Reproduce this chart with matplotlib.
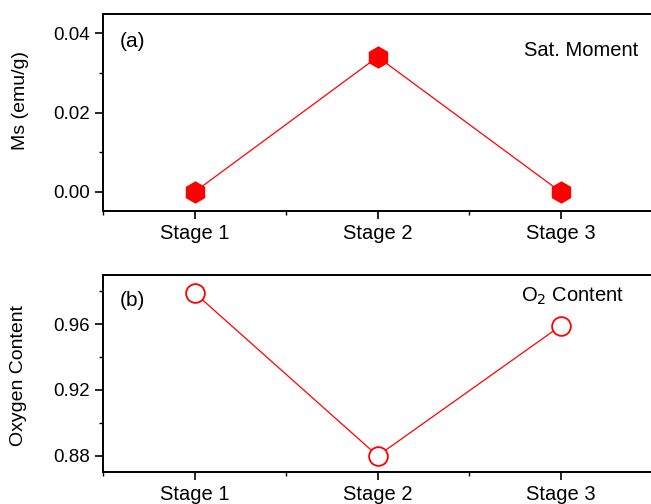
import matplotlib
matplotlib.use("Agg")
import matplotlib.pyplot as plt
from matplotlib.ticker import MultipleLocator

plt.rcParams['font.family'] = ['Liberation Sans', 'DejaVu Sans']

# data
stages = [1, 2, 3]
stage_labels = ["Stage 1", "Stage 2", "Stage 3"]
ms = [0.0, 0.034, 0.0]
oxygen = [0.979, 0.880, 0.959]

fig = plt.figure(figsize=(6.51, 5.04), dpi=100)
ax1 = fig.add_axes([103/651, 1 - 211/504, 1 - 103/651 + 0.002, (211 - 14)/504])
ax2 = fig.add_axes([103/651, 1 - 472/504, 1 - 103/651 + 0.002, (472 - 275)/504])

ax1.plot(stages, ms, color='red', lw=0.9, marker='h', ms=15,
         mfc='red', mec='red')
ax2.plot(stages, oxygen, color='red', lw=0.9, marker='o', ms=13.5,
         mfc='white', mec='red', mew=1.3)

ax1.set_ylim(-0.0048, 0.0448)
ax1.yaxis.set_major_locator(MultipleLocator(0.02))
ax1.yaxis.set_minor_locator(MultipleLocator(0.01))
ax1.yaxis.set_major_formatter(plt.FormatStrFormatter('%.2f'))
ax1.set_ylabel("Ms (emu/g)", fontsize=14)
ax1.text(0.031, 0.86, "(a)", transform=ax1.transAxes, fontsize=15, va='center')
ax1.text(0.974, 0.788, "Sat. Moment", transform=ax1.transAxes, fontsize=14.5,
         ha='right', va='baseline')

ax2.set_ylim(0.8702, 0.9898)
ax2.yaxis.set_major_locator(MultipleLocator(0.04))
ax2.yaxis.set_minor_locator(MultipleLocator(0.02))
ax2.yaxis.set_major_formatter(plt.FormatStrFormatter('%.2f'))
ax2.set_ylabel("Oxygen Content", fontsize=14)
ax2.text(0.031, 0.873, "(b)", transform=ax2.transAxes, fontsize=15, va='center')
ax2.text(0.949, 0.864, "O$_2$ Content", transform=ax2.transAxes, fontsize=14.5,
         ha='right', va='baseline')

for ax in (ax1, ax2):
    ax.set_xlim(0.5, 3.5)
    ax.set_xticks(stages)
    ax.set_xticklabels(stage_labels)
    ax.xaxis.set_minor_locator(MultipleLocator(0.5))
    ax.tick_params(which='major', direction='out', length=6, width=1.2,
                   labelsize=13.5, top=False, right=False)
    ax.tick_params(axis='x', which='major', labelsize=14.5)
    ax.tick_params(which='minor', direction='out', length=3, width=1.0,
                   top=False, right=False)
    for s in ax.spines.values():
        s.set_linewidth(1.4)

ax1.yaxis.set_label_coords(-0.135, 0.563)
ax2.yaxis.set_label_coords(-0.139, 0.49)

fig.savefig("out.png", dpi=100)
